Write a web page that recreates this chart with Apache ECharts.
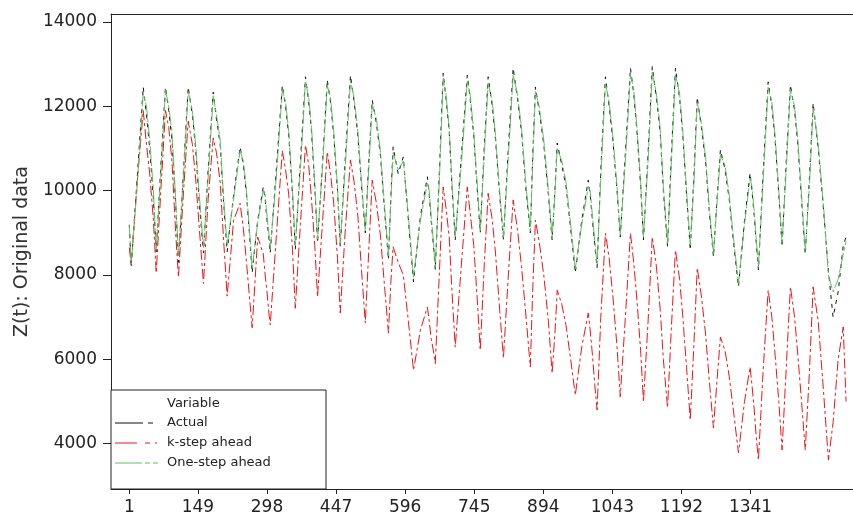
<!DOCTYPE html>
<html>
<head>
<meta charset="utf-8">
<script src="https://cdn.jsdelivr.net/npm/echarts@6/dist/echarts.min.js"></script>
<style>
  html, body { margin: 0; padding: 0; background: #fff; }
  #chart { width: 853px; height: 524px; }
</style>
</head>
<body>
<div id="chart"></div>
<script>
// Observation index of each plotted point
const timeIndex = [
  1, 5,
  18, 31, 38, 45, 53, 59,
  69, 79, 86, 93, 101, 107,
  118, 128, 137, 144, 152, 161,
  171, 182, 189, 197, 204, 212,
  226, 240, 247, 253, 260, 266,
  278, 290, 294, 298, 302, 305,
  318, 331, 338, 345, 353, 359,
  370, 381, 388, 394, 401, 407,
  418, 428, 435, 442, 450, 456,
  467, 478, 486, 494, 502, 510,
  518, 525, 534, 543, 551, 560,
  565, 570, 581, 592, 603, 614,
  629, 644, 648, 652, 657, 661,
  670, 678, 684, 691, 697, 704,
  717, 730, 736, 744, 751, 758,
  766, 775, 784, 791, 799, 808,
  818, 829, 838, 847, 856, 866,
  871, 877, 885, 895, 905, 913,
  919, 924, 934, 943, 953, 963,
  977, 991, 995, 1000, 1005, 1010,
  1018, 1028, 1036, 1044, 1053, 1060,
  1071, 1082, 1089, 1096, 1104, 1110,
  1120, 1129, 1138, 1146, 1153, 1162,
  1170, 1179, 1188, 1195, 1203, 1211,
  1219, 1226, 1235, 1244, 1252, 1261,
  1268, 1276, 1286, 1295, 1305, 1315,
  1328, 1340, 1344, 1349, 1353, 1358,
  1368, 1379, 1387, 1394, 1402, 1409,
  1418, 1427, 1436, 1443, 1451, 1459,
  1468, 1476, 1487, 1498, 1509, 1519, 1530, 1541, 1547
];

// Actual series
const actual = [
  9190, 8170,
  10300, 12460, 11800, 11000, 9800, 8550,
  10600, 12460, 11900, 11200, 9700, 8300,
  10500, 12460, 11800, 11000, 9700, 8520,
  10500, 12340, 11700, 11100, 9800, 8550,
  9900, 11040, 10600, 10000, 9000, 8050,
  9300, 10090, 9800, 9300, 8900, 8520,
  10500, 12500, 12000, 11300, 9900, 8600,
  10700, 12700, 12100, 11400, 10100, 8760,
  10700, 12630, 12100, 11300, 10000, 8670,
  10800, 12740, 12100, 11300, 10100, 9000,
  10800, 12150, 11600, 10800, 9600, 8360,
  9800, 11040, 10400, 10800, 9300, 7840,
  9400, 10330, 9900, 9300, 8700, 8120,
  10500, 12790, 12200, 11400, 10100, 8830,
  10800, 12740, 12200, 11300, 10100, 9000,
  10900, 12700, 12000, 11200, 10000, 8830,
  10900, 12910, 12200, 11400, 10100, 9000,
  10800, 12460, 11900, 11100, 9900, 8830,
  10000, 11130, 10600, 10100, 9100, 8050,
  9300, 10250, 9900, 9300, 8700, 8170,
  10500, 12700, 12000, 11200, 10000, 8900,
  10900, 12910, 12300, 11400, 10100, 8830,
  10900, 12940, 12200, 11400, 10000, 8670,
  10800, 12910, 12200, 11300, 9900, 8590,
  10400, 12220, 11500, 10700, 9500, 8430,
  9700, 10970, 10500, 9800, 8700, 7720,
  9300, 10420, 10000, 9400, 8800, 8120,
  10400, 12580, 12000, 11200, 9900, 8670,
  10700, 12510, 11900, 11100, 9800, 8480,
  10300, 12080, 11000, 9600, 8100, 7000, 7600, 8700, 8900
];

// k-step ahead forecast
const kStepAhead = [
  8650, 8250,
  10200, 11900, 11100, 10400, 9300, 8050,
  10000, 11900, 11500, 10700, 9000, 7950,
  10000, 11650, 11100, 10300, 9100, 7800,
  9800, 11250, 10900, 10200, 8900, 7500,
  9300, 9700, 9100, 8400, 7500, 6750,
  8900, 8500, 8000, 7600, 7100, 6820,
  8900, 10950, 10500, 9900, 8600, 7210,
  9200, 11080, 10600, 9800, 8700, 7480,
  9300, 10920, 10400, 9700, 8400, 7100,
  9100, 10730, 10200, 9400, 8100, 6860,
  8700, 10250, 9700, 8900, 7800, 6620,
  7800, 8670, 8300, 8000, 6900, 5740,
  6700, 7240, 6900, 6500, 6200, 5900,
  8100, 10090, 9600, 8900, 7600, 6290,
  8200, 10090, 9500, 8700, 7500, 6220,
  8100, 9940, 9300, 8500, 7300, 6030,
  7900, 9780, 9100, 8200, 7100, 5820,
  7600, 9300, 8800, 8000, 6900, 5670,
  6600, 7640, 7300, 6800, 6000, 5150,
  6300, 7100, 6700, 6100, 5400, 4800,
  7000, 8990, 8400, 7500, 6300, 5110,
  7000, 8990, 8300, 7400, 6200, 4990,
  6900, 8900, 8200, 7200, 6000, 4850,
  6700, 8590, 7900, 7000, 5800, 4560,
  6400, 8170, 7500, 6600, 5500, 4370,
  5400, 6530, 6200, 5600, 4700, 3780,
  5000, 5820, 5400, 4800, 4200, 3610,
  5700, 7640, 7000, 6100, 5000, 3850,
  5800, 7720, 7000, 6100, 5000, 3850,
  5700, 7720, 6900, 5300, 3610, 4500, 6000, 6770, 5000
];

// One-step ahead forecast
const oneStepAhead = [
  9190, 8250,
  10100, 12300, 12000, 11200, 10000, 8600,
  10400, 12400, 12000, 11400, 9800, 8450,
  10400, 12350, 11900, 11100, 9900, 8650,
  10300, 12250, 11800, 11200, 9900, 8700,
  9800, 10950, 10700, 10100, 9100, 8150,
  9250, 10000, 9900, 9400, 9000, 8600,
  10300, 12400, 12100, 11400, 10000, 8700,
  10500, 12600, 12200, 11500, 10200, 8850,
  10600, 12500, 12200, 11400, 10100, 8750,
  10600, 12600, 12200, 11400, 10200, 9050,
  10600, 12050, 11700, 10900, 9700, 8450,
  9700, 10900, 10500, 10700, 9400, 7950,
  9300, 10200, 10000, 9400, 8800, 8200,
  10300, 12650, 12300, 11500, 10200, 8900,
  10600, 12600, 12300, 11400, 10200, 9050,
  10700, 12550, 12100, 11300, 10100, 8900,
  10700, 12750, 12300, 11500, 10200, 9050,
  10600, 12350, 12000, 11200, 10000, 8900,
  9900, 11000, 10700, 10200, 9200, 8150,
  9200, 10100, 10000, 9400, 8800, 8250,
  10300, 12550, 12100, 11300, 10100, 8950,
  10700, 12750, 12400, 11500, 10200, 8900,
  10700, 12800, 12300, 11500, 10100, 8750,
  10600, 12750, 12300, 11400, 10000, 8700,
  10200, 12100, 11600, 10800, 9600, 8500,
  9600, 10850, 10600, 9900, 8800, 7800,
  9200, 10300, 10100, 9500, 8900, 8200,
  10200, 12450, 12100, 11300, 10000, 8750,
  10500, 12400, 12000, 11200, 9900, 8550,
  10100, 11950, 11100, 9700, 8000, 7600, 7900, 8500, 8800
];

const xTickLabels = [1, 149, 298, 447, 596, 745, 894, 1043, 1192, 1341];
const yTickLabels = [4000, 6000, 8000, 10000, 12000, 14000];

const FONT = '"DejaVu Sans", Verdana, sans-serif';
const COLORS = { actual: '#111111', kStep: '#e8161b', oneStep: '#62be62' };
// Dash patterns for the plotted lines (dense data, short pieces)
const LINE_DASH = {
  actual: [4, 5],
  kStep: [10, 3, 3, 3],
  oneStep: [14, 2, 4, 2]
};
// Dash patterns for the legend keys
const KEY_DASH = {
  actual: [28, 5, 5, 5],
  kStep: [22, 8, 5, 5, 2, 4],
  oneStep: [27, 3, 5, 3, 5, 3]
};

const pairs = vals => timeIndex.map((t, i) => [t, vals[i]]);
const plain = v => String(Math.round(v));

const X_MIN = -38.5, X_MAX = 1562;
const Y_MIN = 2925, Y_MAX = 14190;

const chart = echarts.init(document.getElementById('chart'), null, { renderer: 'canvas' });

function lineSeries(name, vals, color, dash, z) {
  return {
    name, type: 'line', data: pairs(vals), z,
    symbol: 'none', showSymbol: false, animation: false, silent: true,
    lineStyle: { color, width: 1, type: dash }
  };
}

function legendEntry(y, label, color, dash) {
  return [
    { type: 'line', z: 21, shape: { x1: 115, y1: y, x2: 158, y2: y },
      style: { stroke: color, lineWidth: 1, lineDash: dash } },
    { type: 'text', z: 21, x: 167, y: y,
      style: { text: label, font: '13px ' + FONT, fill: '#222', verticalAlign: 'middle' } }
  ];
}

chart.setOption({
  backgroundColor: '#fff',
  animation: false,
  grid: { left: 111, top: 14, right: 0, bottom: 35, containLabel: false },
  xAxis: [
    {
      type: 'value', min: X_MIN, max: X_MAX,
      axisLine: { show: true, onZero: false, lineStyle: { color: '#222', width: 1 } },
      axisTick: { show: true, inside: false, length: 5, customValues: xTickLabels, lineStyle: { color: '#222' } },
      axisLabel: { customValues: xTickLabels, formatter: plain, margin: 10, fontSize: 17, fontFamily: FONT, color: '#222' },
      splitLine: { show: false }
    },
    {
      type: 'value', position: 'top', min: X_MIN, max: X_MAX,
      axisLine: { show: true, onZero: false, lineStyle: { color: '#222', width: 1 } },
      axisTick: { show: false }, axisLabel: { show: false }, splitLine: { show: false }
    }
  ],
  yAxis: {
    type: 'value', min: Y_MIN, max: Y_MAX,
    name: 'Z(t): Original data', nameLocation: 'middle', nameGap: 78,
    nameTextStyle: { fontSize: 19, fontFamily: FONT, color: '#333' },
    axisLine: { show: true, onZero: false, lineStyle: { color: '#222', width: 1 } },
    axisTick: { show: true, inside: false, length: 8, customValues: yTickLabels, lineStyle: { color: '#222' } },
    axisLabel: { customValues: yTickLabels, formatter: plain, margin: 14, fontSize: 17, fontFamily: FONT, color: '#222' },
    splitLine: { show: false }
  },
  series: [
    lineSeries('Actual', actual, COLORS.actual, LINE_DASH.actual, 2),
    lineSeries('k-step ahead', kStepAhead, COLORS.kStep, LINE_DASH.kStep, 3),
    lineSeries('One-step ahead', oneStepAhead, COLORS.oneStep, LINE_DASH.oneStep, 4)
  ],
  graphic: [
    { type: 'rect', z: 20, shape: { x: 111, y: 390, width: 215, height: 99 },
      style: { fill: '#fff', stroke: '#222', lineWidth: 1 } },
    { type: 'text', z: 21, x: 167, y: 404,
      style: { text: 'Variable', font: '13px ' + FONT, fill: '#222', verticalAlign: 'middle' } },
    ...legendEntry(423, 'Actual', COLORS.actual, KEY_DASH.actual),
    ...legendEntry(443, 'k-step ahead', COLORS.kStep, KEY_DASH.kStep),
    ...legendEntry(463, 'One-step ahead', COLORS.oneStep, KEY_DASH.oneStep)
  ]
});
</script>
</body>
</html>
